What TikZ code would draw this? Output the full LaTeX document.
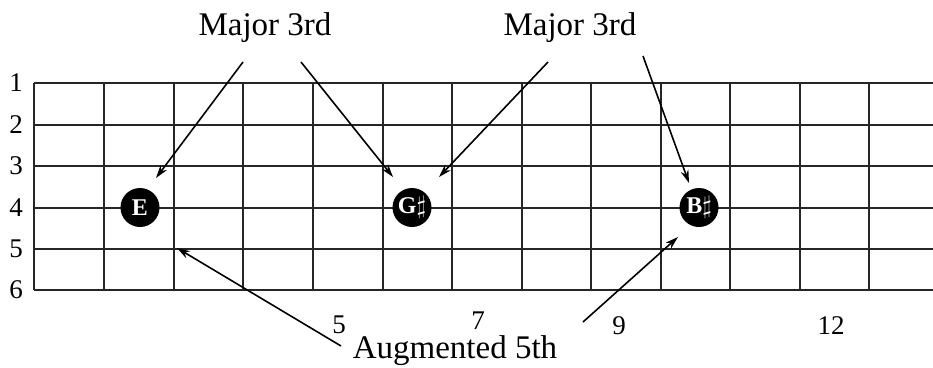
\documentclass[tikz,border=0pt]{standalone}
\usepackage{fontspec}
\setmainfont{Liberation Serif}
\usetikzlibrary{arrows.meta}
\begin{document}
\begin{tikzpicture}[x=1pt,y=-1pt,
  gridline/.style={line width=2pt,draw=black!85},
  lbl/.style={font=\fontsize{33}{36}\selectfont,inner sep=0pt,anchor=base},
  numlbl/.style={font=\fontsize{27}{29}\selectfont,inner sep=0pt},
  notedot/.style={circle,fill=black,minimum size=39pt,inner sep=0pt,text=white,font=\fontsize{24}{26}\selectfont\bfseries},
  arr/.style={line width=1.6pt,-{Stealth[length=13pt,width=8pt]}}]
\useasboundingbox (0,0) rectangle (933,367);
% strings
\foreach \i/\y in {1/83,2/124.5,3/166,4/207.5,5/249,6/290}{
  \draw[gridline] (34,\y) -- (933,\y);
  \node[numlbl] (s\i) at (16,\y) {\i};
}
% frets
\foreach \x in {34,104,174,243,313,383,452,522,591,661,730,800,869}{
  \draw[gridline] (\x,83) -- (\x,290);
}
% fret numbers
\node[numlbl] (f5) at (339,325) {5};
\node[numlbl] (f7) at (478,321) {7};
\node[numlbl] (f9) at (619,326) {9};
\node[numlbl] (f12) at (831,326) {12};
% notes
\node[notedot] (E) at (140,207.5) {E};
\node[notedot] (Gs) at (412,207.5) {G$\sharp$};
\node[notedot] (Bs) at (699,207.5) {B$\sharp$};
% labels
\node[lbl] (m1) at (265,35) {Major 3rd};
\node[lbl] (m2) at (570,35) {Major 3rd};
\node[lbl] (aug) at (455,358) {Augmented 5th};
% arrow endpoints
\coordinate (a1s) at (243,62);  \coordinate (a1e) at (156,178);
\coordinate (a2s) at (301,62);  \coordinate (a2e) at (393,177);
\coordinate (a3s) at (548,62);  \coordinate (a3e) at (439,177);
\coordinate (a4s) at (643,56);  \coordinate (a4e) at (689,183);
\coordinate (a5s) at (341,346); \coordinate (a5e) at (177,248);
\coordinate (a6s) at (583,322); \coordinate (a6e) at (678,237);
\draw[arr] (a1s) -- (a1e);
\draw[arr] (a2s) -- (a2e);
\draw[arr] (a3s) -- (a3e);
\draw[arr] (a4s) -- (a4e);
\draw[arr] (a5s) -- (a5e);
\draw[arr] (a6s) -- (a6e);
\end{tikzpicture}
\end{document}
